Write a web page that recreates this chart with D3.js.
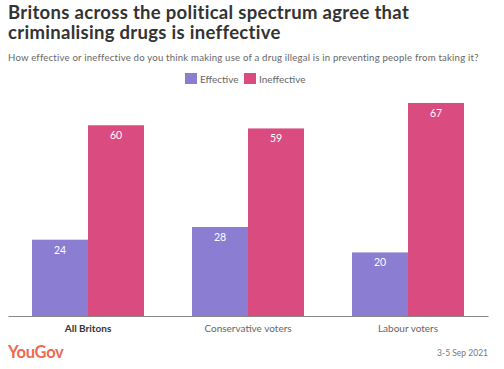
<!DOCTYPE html>
<html>
<head>
<meta charset="utf-8">
<script src="https://cdn.jsdelivr.net/npm/d3@7"></script>
<style>
  body { margin: 0; background: #fff; }
  svg { display: block; font-family: Lato, "Open Sans", sans-serif; }
</style>
</head>
<body>
<div id="chart"></div>
<script>
const w = 504;
const h = 369;

// data
const categories = ["All Britons", "Conservative voters", "Labour voters"];
const seriesNames = ["Effective", "Ineffective"];
const effective = [24, 28, 20];
const ineffective = [60, 59, 67];
const colors = ["#8a7dd2", "#da4b7f"];

let svg = d3.select("div#chart").append("svg")
    .attr("width", w).attr("height", h)
    .style("background-color", "#ffffff");

// title block
svg.append("text").attr("x", 8).attr("y", 19)
    .style("font-size", "18.5px").style("font-weight", "bold").style("fill", "#333")
    .style("letter-spacing", "0.3px")
    .text("Britons across the political spectrum agree that");
svg.append("text").attr("x", 8).attr("y", 39)
    .style("font-size", "18.5px").style("font-weight", "bold").style("fill", "#333")
    .style("letter-spacing", "0.3px")
    .text("criminalising drugs is ineffective");
svg.append("text").attr("x", 8).attr("y", 61)
    .style("font-size", "9.6px").style("fill", "#666")
    .style("letter-spacing", "0.2px")
    .text("How effective or ineffective do you think making use of a drug illegal is in preventing people from taking it?");

// legend
const legend = svg.append("g");
const legendX = [185, 244];
seriesNames.forEach((name, i) => {
    legend.append("rect").attr("x", legendX[i]).attr("y", 73)
        .attr("width", 12).attr("height", 11).attr("fill", colors[i]);
    legend.append("text").attr("x", legendX[i] + 15).attr("y", 82.5)
        .style("font-size", "10px").style("fill", "#666").text(name);
});

// scales
const x0 = d3.scaleBand().domain(categories).range([8, 488]).paddingInner(0.3).paddingOuter(0.15);
const x1 = d3.scaleBand().domain(seriesNames).range([0, x0.bandwidth()]);
const y = d3.scaleLinear().domain([0, 67]).range([316, 103]);

const rows = categories.map((c, i) => ({ cat: c, vals: [effective[i], ineffective[i]] }));

const groups = svg.selectAll("g.grp")
    .data(rows)
    .join("g")
    .attr("class", "grp")
    .attr("transform", d => "translate(" + x0(d.cat) + ",0)");

groups.selectAll("rect")
    .data(d => d.vals.map((v, i) => ({ s: seriesNames[i], v: v, i: i })))
    .join("rect")
    .attr("x", d => x1(d.s))
    .attr("y", d => y(d.v))
    .attr("width", x1.bandwidth())
    .attr("height", d => y(0) - y(d.v))
    .attr("fill", d => colors[d.i]);

groups.selectAll("text.val")
    .data(d => d.vals.map((v, i) => ({ s: seriesNames[i], v: v })))
    .join("text")
    .attr("class", "val")
    .attr("x", d => x1(d.s) + x1.bandwidth() / 2)
    .attr("y", d => y(d.v) + 14)
    .attr("text-anchor", "middle")
    .style("font-size", "10.5px").style("fill", "#fff")
    .text(d => d.v);

// axis
const xAxis = svg.append("g").attr("transform", "translate(0,316)")
    .call(d3.axisBottom(x0).tickSize(0).tickPadding(9));
xAxis.select(".domain").attr("stroke", "#888").attr("stroke-width", 1.2);
xAxis.selectAll("text")
    .style("font-family", "Lato, sans-serif").style("font-size", "10px")
    .style("fill", (d, i) => i === 0 ? "#333" : "#666")
    .style("font-weight", (d, i) => i === 0 ? "bold" : "normal");

// footer
svg.append("text").attr("x", 8).attr("y", 358)
    .style("font-size", "16.5px").style("font-weight", "bold").style("fill", "#ef6950")
    .style("letter-spacing", "-0.3px")
    .text("YouGov");
svg.append("text").attr("x", 488).attr("y", 356).attr("text-anchor", "end")
    .style("font-size", "8.5px").style("fill", "#777")
    .text("3-5 Sep 2021");
</script>
</body>
</html>
